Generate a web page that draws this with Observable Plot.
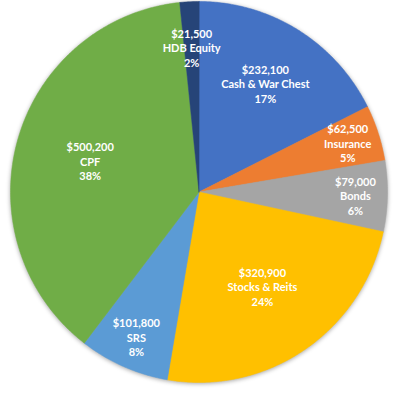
<!DOCTYPE html>
<html>
<head>
<meta charset="utf-8">
<script src="https://cdn.jsdelivr.net/npm/d3@7"></script>
<script src="https://cdn.jsdelivr.net/npm/@observablehq/plot@0.6"></script>
<style>
  html, body { margin: 0; padding: 0; background: #ffffff; }
  svg g[aria-label="line"] { filter: drop-shadow(0px 1px 2px rgba(0,0,0,0.35)); }
</style>
</head>
<body>
<div id="chart"></div>
<script>
// Slices in clockwise order starting at 12 o'clock
const categories = ["Cash & War Chest", "Insurance", "Bonds", "Stocks & Reits", "SRS", "CPF", "HDB Equity"];
const values = [232100, 62500, 79000, 320900, 101800, 500200, 21500];
const percentLabels = ["17%", "5%", "6%", "24%", "8%", "38%", "2%"];
const colors = ["#4472C4", "#ED7D31", "#A5A5A5", "#FFC000", "#5B9BD5", "#70AD47", "#264478"];

const total = d3.sum(values);
const arcs = d3.pie().sort(null).value(d => d)(values);

// wedge outlines (geometry sampled along each arc)
const wedgePts = [];
arcs.forEach((a, i) => {
  const cat = categories[i];
  wedgePts.push({cat, x: 0, y: 0});
  const n = Math.max(2, Math.ceil((a.endAngle - a.startAngle) / (Math.PI / 360)));
  for (let k = 0; k <= n; k++) {
    const t = a.startAngle + (a.endAngle - a.startAngle) * k / n;
    wedgePts.push({cat, x: Math.sin(t), y: Math.cos(t)});
  }
});

// label placement: larger slices get labels nearer the centre
function labelRadius(share) {
  if (share < 0.03) return 0.76;
  if (share < 0.1) return 0.83;
  if (share < 0.2) return 0.67;
  return 0.6;
}
const fmt = d3.format("$,");
const labels = arcs.map((a, i) => {
  const mid = (a.startAngle + a.endAngle) / 2;
  const f = labelRadius(values[i] / total);
  return {
    x: f * Math.sin(mid),
    y: f * Math.cos(mid),
    text: `${fmt(values[i])}\n${categories[i]}\n${percentLabels[i]}`
  };
});

const chart = Plot.plot({
  width: 400,
  height: 399,
  margin: 0,
  style: {background: "#ffffff", fontFamily: "Lato, 'Open Sans', sans-serif"},
  x: {domain: [-1, 1], range: [10, 387], axis: null},
  y: {domain: [-1, 1], range: [382, 1], axis: null},
  color: {domain: categories, range: colors},
  marks: [
    Plot.line(wedgePts, {x: "x", y: "y", z: "cat", fill: "cat", stroke: "cat", strokeWidth: 0.5, curve: "linear-closed"}),
    Plot.text(labels, {x: "x", y: "y", text: "text", fill: "white", fontWeight: "bold", fontSize: 11, lineHeight: 1.32, fontFamily: "Lato"})
  ]
});
document.getElementById("chart").appendChild(chart);
</script>
</body>
</html>
